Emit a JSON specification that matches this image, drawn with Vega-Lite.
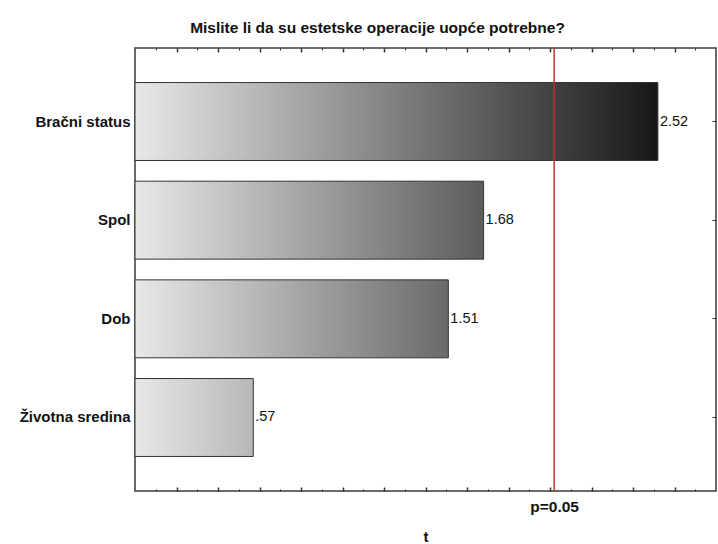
{
  "$schema": "https://vega.github.io/schema/vega-lite/v6.json",
  "width": 581,
  "height": 443,
  "autosize": {"type": "none"},
  "padding": {"left": 135, "top": 48, "right": 2, "bottom": 53},
  "background": "white",
  "title": {
    "text": "Mislite li da su estetske operacije uopće potrebne?",
    "font": "Liberation Sans",
    "fontSize": 15.5,
    "fontWeight": "bold",
    "color": "#111111",
    "anchor": "middle",
    "dx": -48,
    "offset": 11
  },
  "config": {
    "view": {"stroke": "#3a3a3a", "strokeWidth": 1.5},
    "font": "Liberation Sans"
  },
  "data": {
    "values": [
      {"var": "Bračni status", "t": 2.52},
      {"var": "Spol", "t": 1.68},
      {"var": "Dob", "t": 1.51},
      {"var": "Životna sredina", "t": 0.57}
    ]
  },
  "resolve": {"axis": {"x": "independent", "y": "independent"}},
  "layer": [
    {
      "mark": {
        "type": "bar",
        "stroke": "#333333",
        "strokeWidth": 1,
        "fill": {"expr": "{gradient: 'linear', x1: 0, y1: 0, x2: 1, y2: 0, stops: [{offset: 0, color: '#e8e8e8'}, {offset: 1, color: 'rgb(' + round(230*(1-datum.t/2.8)) + ',' + round(230*(1-datum.t/2.8)) + ',' + round(230*(1-datum.t/2.8)) + ')'}]}"}
      },
      "encoding": {
        "y": {
          "field": "var",
          "type": "nominal",
          "sort": null,
          "scale": {"paddingInner": 0.21, "paddingOuter": 0.35},
          "axis": {
            "orient": "left",
            "domain": false,
            "grid": false,
            "ticks": true,
            "tickSize": -4,
            "tickColor": "#333333",
            "labelFontSize": 15,
            "labelFontWeight": "bold",
            "labelColor": "#111111",
            "labelPadding": 9,
            "title": null
          }
        },
        "x": {
          "field": "t",
          "type": "quantitative",
          "scale": {"domain": [0, 2.8], "nice": false, "zero": true},
          "axis": {
            "orient": "bottom",
            "values": [0.1, 0.2, 0.3, 0.4, 0.5, 0.6, 0.7, 0.8, 0.9, 1.0, 1.1, 1.2, 1.3, 1.4, 1.5, 1.6, 1.7, 1.8, 1.9, 2.0, 2.02, 2.1, 2.2, 2.3, 2.4, 2.5, 2.6, 2.7],
            "domain": false,
            "grid": false,
            "ticks": true,
            "tickColor": "#333333",
            "tickWidth": {"condition": {"test": "round(datum.value*10)%2==0", "value": 1.5}, "value": 1},
            "tickSize": {"condition": {"test": "round(datum.value*10)%2==0", "value": -4}, "value": -2},
            "tickOpacity": {"condition": {"test": "datum.value==2.02", "value": 0}, "value": 1},
            "labelExpr": "datum.value==2.02 ? 'p=0.05' : ''",
            "labelOverlap": false,
            "labelFlush": false,
            "labelFontSize": 15.5,
            "labelFontWeight": "bold",
            "labelColor": "#111111",
            "labelPadding": 12,
            "title": "t",
            "titleFontSize": 15,
            "titleFontWeight": "bold",
            "titleColor": "#111111",
            "titlePadding": 13
          }
        }
      }
    },
    {
      "data": {"values": [{"crit": 2.02}]},
      "mark": {"type": "rule", "color": "#c62d36", "strokeWidth": 1.5},
      "encoding": {
        "x": {
          "field": "crit",
          "type": "quantitative",
          "scale": {"domain": [0, 2.8], "nice": false, "zero": true},
          "axis": {
            "orient": "top",
            "values": [0.1, 0.2, 0.3, 0.4, 0.5, 0.6, 0.7, 0.8, 0.9, 1.0, 1.1, 1.2, 1.3, 1.4, 1.5, 1.6, 1.7, 1.8, 1.9, 2.0, 2.1, 2.2, 2.3, 2.4, 2.5, 2.6, 2.7],
            "domain": false,
            "grid": false,
            "labels": false,
            "ticks": true,
            "tickColor": "#333333",
            "tickWidth": {"condition": {"test": "round(datum.value*10)%2==0", "value": 1.5}, "value": 1},
            "tickSize": {"condition": {"test": "round(datum.value*10)%2==0", "value": -4}, "value": -2},
            "title": null
          }
        }
      }
    },
    {
      "transform": [
        {"calculate": "datum.t < 1 ? substring(format(datum.t, '.2f'), 1) : format(datum.t, '.2f')", "as": "lab"}
      ],
      "mark": {"type": "text", "align": "left", "baseline": "middle", "dx": 2, "fontSize": 14.5, "color": "#111111"},
      "encoding": {
        "y": {
          "field": "var",
          "type": "nominal",
          "sort": null,
          "scale": {"paddingInner": 0.21, "paddingOuter": 0.35},
          "axis": {
            "orient": "right",
            "domain": false,
            "grid": false,
            "labels": false,
            "ticks": true,
            "tickSize": -4,
            "tickColor": "#333333",
            "title": null
          }
        },
        "x": {
          "field": "t",
          "type": "quantitative",
          "scale": {"domain": [0, 2.8], "nice": false, "zero": true},
          "axis": null
        },
        "text": {"field": "lab"}
      }
    }
  ]
}
